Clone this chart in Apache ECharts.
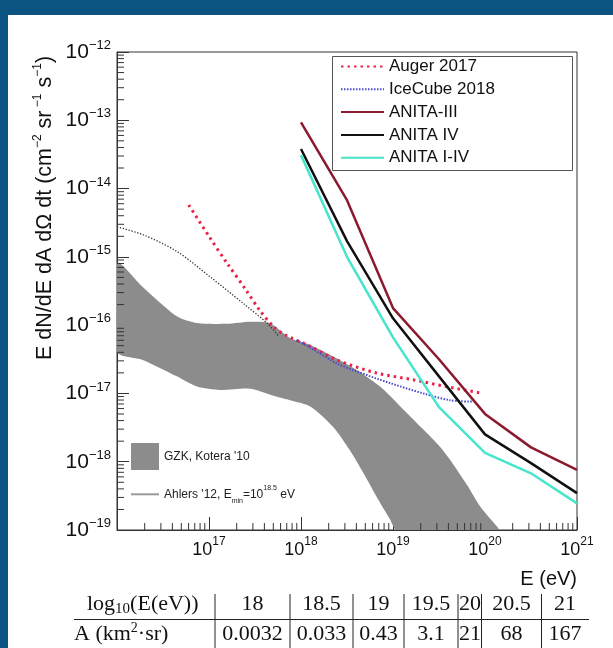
<!DOCTYPE html>
<html><head><meta charset="utf-8">
<script src="https://cdn.jsdelivr.net/npm/echarts@6/dist/echarts.min.js"></script>
<style>html,body{margin:0;padding:0;background:#fff}#c{width:613px;height:648px}</style>
</head><body><div id="c"></div>
<script>
// ---- data (log10 of E in eV, log10 of flux) ----
const augerLogE = [16.78, 17.0, 17.2, 17.4, 17.55, 17.70, 17.81, 18.10, 18.39, 18.82, 19.22, 19.58, 19.98];
const augerLogF = [-14.24, -14.70, -15.10, -15.48, -15.78, -16.02, -16.13, -16.31, -16.51, -16.70, -16.80, -16.90, -17.0];
const icecubeLogE = [17.95, 18.10, 18.39, 18.61, 18.97, 19.33, 19.62, 19.86];
const icecubeLogF = [-16.22, -16.33, -16.56, -16.68, -16.85, -17.0, -17.10, -17.12];
const anitaLogE = [18.0, 18.5, 19.0, 19.5, 20.0, 20.5, 21.0];
const anita3LogF = [-13.03, -14.17, -15.75, -16.50, -17.30, -17.79, -18.12];
const anita4LogF = [-13.42, -14.77, -15.90, -16.75, -17.60, -18.02, -18.46];
const anitaAllLogF = [-13.51, -15.00, -16.18, -17.20, -17.87, -18.17, -18.61];
const ahlersLogE = [16.0, 16.29, 16.65, 17.01, 17.37, 17.63, 17.75];
const ahlersLogF = [-14.56, -14.68, -14.92, -15.29, -15.68, -15.97, -16.15];
const gzkUpperLogE = [16.0, 16.28, 16.65, 16.87, 17.19, 17.45, 17.66, 17.88, 18.10, 18.35, 18.61, 18.86, 19.08, 19.33, 19.51, 19.62, 19.80, 19.95, 20.13, 20.15];
const gzkUpperLogF = [-15.09, -15.44, -15.87, -15.97, -15.98, -15.95, -15.97, -16.19, -16.29, -16.46, -16.66, -16.90, -17.19, -17.53, -17.78, -17.97, -18.33, -18.66, -18.95, -19.0];
const gzkLowerLogE = [16.0, 16.28, 16.65, 16.87, 17.12, 17.45, 17.74, 17.88, 18.10, 18.35, 18.53, 18.68, 18.82, 18.97, 19.04];
const gzkLowerLogF = [-16.39, -16.51, -16.75, -16.90, -16.95, -16.93, -17.05, -17.10, -17.19, -17.49, -17.83, -18.17, -18.51, -18.85, -19.0];
const tableLogE = ['18', '18.5', '19', '19.5', '20', '20.5', '21'];
const tableArea = ['0.0032', '0.033', '0.43', '3.1', '21', '68', '167'];

const SANS = "'Liberation Sans', Arial, sans-serif";
const SERIF = "'Liberation Serif', 'Times New Roman', serif";
const pts = (le, lf) => le.map((e, i) => [Math.pow(10, e), Math.pow(10, lf[i])]);

const NAMES = {
  auger: 'Auger 2017', ice: 'IceCube 2018', a3: 'ANITA-III', a4: 'ANITA IV', aall: 'ANITA I-IV',
  gzk: "GZK, Kotera '10", ahlers: "Ahlers '12, Emin=10^18.5 eV"
};

// minor ticks (log 2..9 per decade)
const xMinor = [], yMinor = [];
for (let d = 16; d < 21; d++) for (let k = 2; k <= 9; k++) xMinor.push([k * Math.pow(10, d), 1e-19]);
for (let d = -19; d < -12; d++) for (let k = 2; k <= 9; k++) yMinor.push([1e16, k * Math.pow(10, d)]);

const lineSeries = (name, data, color, width, type, extra) => Object.assign({
  type: 'line', name, data, symbol: 'none', silent: true,
  lineStyle: { color, width, type }, itemStyle: { color }
}, extra || {});

// table layout
const colLines = [215, 290, 353, 404, 458, 481.5, 541.5];
const colCenters = [252.5, 321.5, 378.5, 431, 470, 511.5, 565];
const tableGraphics = [];
colLines.forEach(x => tableGraphics.push({ type: 'line', shape: { x1: x, y1: 594, x2: x, y2: 648 }, style: { stroke: '#222', lineWidth: 1 } }));
tableGraphics.push({ type: 'line', shape: { x1: 74, y1: 619.5, x2: 589, y2: 619.5 }, style: { stroke: '#222', lineWidth: 1 } });
const tStyle = { fontSize: 22, fontFamily: SERIF, fill: '#111', align: 'center', verticalAlign: 'middle' };
tableLogE.forEach((t, i) => tableGraphics.push({ type: 'text', x: colCenters[i], y: 604, style: Object.assign({ text: t }, tStyle) }));
tableArea.forEach((t, i) => tableGraphics.push({ type: 'text', x: colCenters[i], y: 634, style: Object.assign({ text: t }, tStyle) }));
tableGraphics.push({ type: 'text', x: 87, y: 604, style: {
  text: '{a|log}{sub|10}{a|(E(eV))}', fill: '#111', align: 'left', verticalAlign: 'middle',
  rich: { a: { fontSize: 22, fontFamily: SERIF, lineHeight: 26 }, sub: { fontSize: 15, fontFamily: SERIF, lineHeight: 15, verticalAlign: 'bottom' } } } });
tableGraphics.push({ type: 'text', x: 74, y: 634, style: {
  text: '{a|A (km}{sup|2}{a|·sr)}', fill: '#111', align: 'left', verticalAlign: 'middle',
  rich: { a: { fontSize: 22, fontFamily: SERIF, lineHeight: 26 }, sup: { fontSize: 14, fontFamily: SERIF, lineHeight: 14, verticalAlign: 'top' } } } });

const chart = echarts.init(document.getElementById('c'), null, { renderer: 'canvas' });
chart.setOption({
  backgroundColor: '#ffffff',
  animation: false,
  grid: { left: 117, top: 52, width: 460, height: 478, show: true, borderColor: '#333', borderWidth: 1, backgroundColor: 'transparent' },
  xAxis: {
    type: 'log', logBase: 10, min: 1e16, max: 1e21, splitNumber: 5,
    axisLine: { lineStyle: { color: '#333', width: 1 } },
    axisTick: { inside: true, length: 13, lineStyle: { color: '#333' } },
    splitLine: { show: false },
    axisLabel: {
      margin: 6,
      formatter: v => { const n = Math.round(Math.log10(v)); return n === 16 ? '' : '{b|10}{s|' + n + '}'; },
      rich: { b: { fontSize: 18, lineHeight: 28, fontFamily: SANS, color: '#111' }, s: { fontSize: 12, lineHeight: 12, verticalAlign: 'top', fontFamily: SANS, color: '#111' } }
    }
  },
  yAxis: {
    type: 'log', logBase: 10, min: 1e-19, max: 1e-12, splitNumber: 7,
    axisLine: { lineStyle: { color: '#333', width: 1 } },
    axisTick: { inside: true, length: 12, lineStyle: { color: '#333' } },
    splitLine: { show: false },
    axisLabel: {
      margin: 6,
      formatter: v => { const n = Math.round(Math.log10(v)); return '{b|10}{s|' + (n < 0 ? '\u2212' : '') + Math.abs(n) + '}'; },
      rich: { b: { fontSize: 21, lineHeight: 26, fontFamily: SANS, color: '#111' }, s: { fontSize: 13, lineHeight: 13, verticalAlign: 'top', fontFamily: SANS, color: '#111' } }
    }
  },
  legend: [{
    data: [NAMES.auger, NAMES.ice, NAMES.a3, NAMES.a4, NAMES.aall],
    orient: 'vertical', left: 340, top: 58, padding: 0, z: 20,
    itemWidth: 43, itemHeight: 14, itemGap: 5.8, selectedMode: false,
    itemStyle: { opacity: 0 },
    textStyle: { fontSize: 17, fontFamily: SANS, color: '#111' }
  }, {
    data: [
      { name: NAMES.gzk, icon: 'rect', itemStyle: { color: '#8c8c8c', opacity: 1 } },
      { name: NAMES.ahlers, itemStyle: { opacity: 0 }, lineStyle: { color: '#9a9a9a', type: 'solid', width: 2 } }
    ],
    orient: 'vertical', left: 130, top: 443, padding: 0, z: 20,
    itemWidth: 28, itemHeight: 27, itemGap: 13.5, selectedMode: false,
    formatter: name => name === NAMES.ahlers ? "{a|Ahlers '12, E}{sub|min}{a|=10}{sup|18.5}{a| eV}" : name,
    textStyle: {
      fontSize: 12, fontFamily: SANS, color: '#222',
      rich: {
        a: { fontSize: 12, fontFamily: SANS, lineHeight: 20, color: '#222' },
        sub: { fontSize: 7, fontFamily: SANS, lineHeight: 8, verticalAlign: 'bottom', color: '#222' },
        sup: { fontSize: 7, fontFamily: SANS, lineHeight: 8, verticalAlign: 'top', color: '#222' }
      }
    }
  }],
  graphic: [
    { type: 'rect', shape: { x: 0, y: 0, width: 613, height: 15 }, style: { fill: '#0b5381' }, z: 50 },
    { type: 'rect', shape: { x: 0, y: 0, width: 8, height: 648 }, style: { fill: '#0b5381' }, z: 50 },
    { type: 'rect', shape: { x: 332.5, y: 56.5, width: 240, height: 114 }, style: { fill: '#fff', stroke: '#555', lineWidth: 1 }, z: 10 },
    { type: 'text', x: 45, y: 208, rotation: Math.PI / 2, style: {
      text: '{a|E dN/dE dA d\u03A9 dt (cm}{s|\u22122}{a| sr}{s| \u22121}{a| s}{s|\u22121}{a|)}',
      fill: '#111', align: 'center', verticalAlign: 'middle',
      rich: { a: { fontSize: 21.5, fontFamily: SANS, lineHeight: 26, color: '#111' }, s: { fontSize: 12, fontFamily: SANS, lineHeight: 12, verticalAlign: 'top', color: '#111' } } } },
    { type: 'text', x: 577, y: 579, style: { text: 'E (eV)', fontSize: 20, fontFamily: SANS, fill: '#111', align: 'right', verticalAlign: 'middle' } }
  ].concat(tableGraphics),
  series: [
    lineSeries(NAMES.ahlers, pts(ahlersLogE, ahlersLogF), '#333', 1.3, [1.3, 1.7], { smooth: 0.3 }),
    {
      type: 'custom', name: NAMES.gzk, silent: true, data: [[1e17, 1e-16]],
      itemStyle: { color: '#8c8c8c' },
      renderItem: (params, api) => {
        const cs = params.coordSys;
        const up = gzkUpperLogE.map((e, i) => api.coord([Math.pow(10, e), Math.pow(10, gzkUpperLogF[i])]));
        const lo = gzkLowerLogE.map((e, i) => api.coord([Math.pow(10, e), Math.pow(10, gzkLowerLogF[i])])).reverse();
        return { type: 'polygon', shape: { points: up.concat(lo), smooth: 0.25,
          smoothConstraint: [[cs.x, cs.y], [cs.x + cs.width, cs.y + cs.height]] }, style: { fill: '#8c8c8c' } };
      }
    },
    lineSeries(NAMES.auger, pts(augerLogE, augerLogF), '#e8234a', 3, [2.5, 4], { smooth: 0.3 }),
    lineSeries(NAMES.ice, pts(icecubeLogE, icecubeLogF), '#4a4ad0', 2, [1.5, 1.5], { smooth: 0.3 }),
    lineSeries(NAMES.a3, pts(anitaLogE, anita3LogF), '#8b1a2e', 2.5, 'solid'),
    lineSeries(NAMES.a4, pts(anitaLogE, anita4LogF), '#111111', 2.5, 'solid'),
    lineSeries(NAMES.aall, pts(anitaLogE, anitaAllLogF), '#45e6cc', 2.5, 'solid'),
    {
      type: 'custom', silent: true, data: xMinor, z: 5,
      renderItem: (params, api) => { const c = api.coord([api.value(0), api.value(1)]);
        return { type: 'line', shape: { x1: c[0], y1: c[1], x2: c[0], y2: c[1] - 7 }, style: { stroke: '#333', lineWidth: 1 } }; }
    },
    {
      type: 'custom', silent: true, data: yMinor, z: 5,
      renderItem: (params, api) => { const c = api.coord([api.value(0), api.value(1)]);
        return { type: 'line', shape: { x1: c[0], y1: c[1], x2: c[0] + 7, y2: c[1] }, style: { stroke: '#333', lineWidth: 1 } }; }
    }
  ]
});
</script></body></html>
